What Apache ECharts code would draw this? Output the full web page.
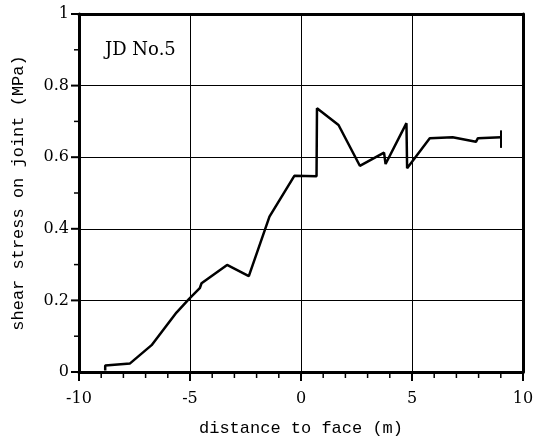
<!DOCTYPE html>
<html>
<head>
<meta charset="utf-8">
<script src="https://cdn.jsdelivr.net/npm/echarts@6/dist/echarts.min.js"></script>
<style>
html,body{margin:0;padding:0;background:#fff;}
#main{width:542px;height:445px;}
</style>
</head>
<body>
<div id="main"></div>
<script>
// distance to face (m) and shear stress (MPa)
var distance = [-8.82, -8.82, -7.70, -6.73, -5.61, -5.04, -4.56, -4.48, -3.33, -2.35, -1.42, -0.30, 0.70, 0.72, 1.69, 2.65, 3.74, 3.81, 4.75, 4.78, 5.80, 6.83, 7.88, 7.97, 9.01];
var stress = [0.004, 0.018, 0.024, 0.075, 0.166, 0.204, 0.234, 0.248, 0.299, 0.268, 0.434, 0.548, 0.547, 0.737, 0.69, 0.576, 0.613, 0.581, 0.695, 0.569, 0.653, 0.656, 0.643, 0.653, 0.656];
// error bar at the last point
var errX = [9.01, 9.01];
var errY = [0.626, 0.675];

var xTicks = [-10, -5, 0, 5, 10];
var yTicks = [0, 0.2, 0.4, 0.6, 0.8, 1];
// small ticks between the labelled ones
var xMinorTicks = [-9, -8, -7, -6, -4, -3, -2, -1, 1, 2, 3, 4, 6, 7, 8, 9];
var yMinorTicks = [0.1, 0.3, 0.5, 0.7, 0.9];

var lineData = [];
for (var i = 0; i < distance.length; i++) lineData.push([distance[i], stress[i]]);
var errData = [];
for (var j = 0; j < errX.length; j++) errData.push([errX[j], errY[j]]);

var chart = echarts.init(document.getElementById('main'));
var serif = '"DejaVu Serif", serif';
var mono = '"Liberation Mono", monospace';
var xMin = xTicks[0], xMax = xTicks[xTicks.length - 1];
var yMin = yTicks[0], yMax = yTicks[yTicks.length - 1];

// x ticks: [value, 0] ; drawn with the x axis scale
var xTickData = [];
xTicks.forEach(function (v) { xTickData.push([v, yMin, 9]); });
xMinorTicks.forEach(function (v) { xTickData.push([v, yMin, 6]); });
// y ticks: [xMin, value]
var yTickData = [];
yTicks.forEach(function (v) { yTickData.push([xMin, v, 8]); });
yMinorTicks.forEach(function (v) { yTickData.push([xMin, v, 5]); });

function renderXTick(params, api) {
    var p = api.coord([api.value(0), api.value(1)]);
    var len = api.value(2);
    return {type: 'line', shape: {x1: p[0], y1: p[1], x2: p[0], y2: p[1] + len},
        style: {stroke: '#000', lineWidth: len > 7 ? 2 : 1.5}};
}
function renderYTick(params, api) {
    var p = api.coord([api.value(0), api.value(1)]);
    var len = api.value(2);
    return {type: 'line', shape: {x1: p[0] - len, y1: p[1], x2: p[0], y2: p[1]},
        style: {stroke: '#000', lineWidth: len > 6 ? 2 : 1.5}};
}

// plain axis for the top / right frame
function frameAxis(pos, min, max) {
    return {
        type: 'value', position: pos, min: min, max: max,
        axisLine: {show: true, onZero: false, lineStyle: {color: '#000', width: 3}},
        axisTick: {show: false}, axisLabel: {show: false}, splitLine: {show: false}
    };
}

chart.setOption({
    backgroundColor: '#fff',
    animation: false,
    grid: {left: 79, right: 19, top: 14, bottom: 73},
    title: {
        text: 'JD No.5', left: 100, top: 36,
        textStyle: {fontFamily: serif, fontSize: 18, fontWeight: 'normal', color: '#000'}
    },
    xAxis: [{
        type: 'value', position: 'bottom', min: xMin, max: xMax, interval: 5,
        name: 'distance to face (m)', nameLocation: 'middle', nameGap: 48,
        nameTextStyle: {fontFamily: mono, fontSize: 17, color: '#000'},
        axisLine: {show: true, onZero: false, lineStyle: {color: '#000', width: 3}},
        axisTick: {show: false},
        axisLabel: {margin: 19, fontFamily: serif, fontSize: 16, color: '#000'},
        splitLine: {show: true, lineStyle: {color: '#000', width: 1}}
    }, frameAxis('top', xMin, xMax)],
    yAxis: [{
        type: 'value', position: 'left', min: yMin, max: yMax, interval: 0.2,
        name: 'shear stress on joint (MPa)', nameLocation: 'middle', nameGap: 52,
        nameTextStyle: {fontFamily: mono, fontSize: 17, color: '#000'},
        axisLine: {show: true, onZero: false, lineStyle: {color: '#000', width: 3}},
        axisTick: {show: false},
        axisLabel: {margin: 10, fontFamily: serif, fontSize: 16, color: '#000'},
        splitLine: {show: true, lineStyle: {color: '#000', width: 1}}
    }, frameAxis('right', yMin, yMax)],
    series: [
        {type: 'line', data: lineData, showSymbol: false, lineStyle: {color: '#000', width: 2.5}},
        {type: 'line', data: errData, showSymbol: false, lineStyle: {color: '#000', width: 2}},
        {type: 'custom', data: xTickData, clip: false, silent: true, z: 100,
            encode: {x: 0, y: 1}, renderItem: renderXTick},
        {type: 'custom', data: yTickData, clip: false, silent: true, z: 100,
            encode: {x: 0, y: 1}, renderItem: renderYTick}
    ]
});
</script>
</body>
</html>
